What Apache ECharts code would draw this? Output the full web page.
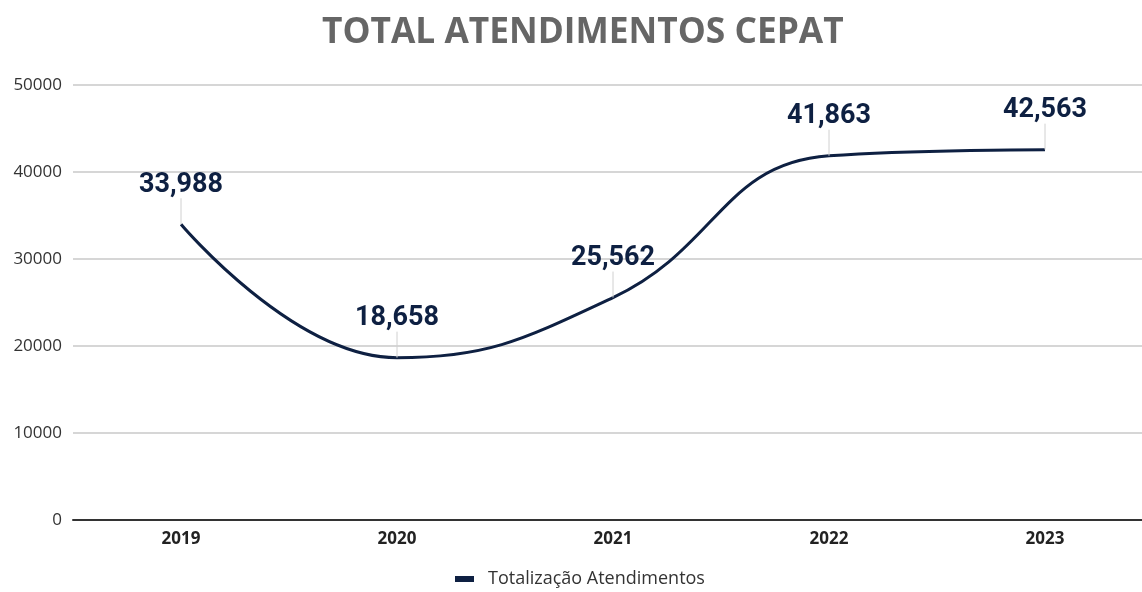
<!DOCTYPE html>
<html><head><meta charset="utf-8">
<script src="https://cdn.jsdelivr.net/npm/echarts@6/dist/echarts.min.js"></script>
<style>html,body{margin:0;padding:0;background:#fff;overflow:hidden}#c{width:1153px;height:592px}</style>
</head><body><div id="c"></div>
<script>
const categories = ['2019','2020','2021','2022','2023'];
const values = [33988, 18658, 25562, 41863, 42563];
const seriesName = 'Totalização Atendimentos';
const titleText = 'TOTAL ATENDIMENTOS CEPAT';

const chart = echarts.init(document.getElementById('c'));
chart.setOption({
  animation: false,
  title: {
    text: titleText, left: 317, top: 10,
    textStyle: {fontFamily: 'Open Sans', fontWeight: 'bold', fontSize: 35.3, color: '#666666'}
  },
  legend: {
    top: 570, left: 455, padding: 0,
    icon: 'rect', itemWidth: 19, itemHeight: 6, itemGap: 10,
    itemStyle: {color: '#0e2042', opacity: 1},
    textStyle: {fontFamily: 'Open Sans', fontSize: 18, color: '#333', padding: [0, 0, 0, 9]}
  },
  grid: {left: 73, right: 0, top: 85, bottom: 72, containLabel: false},
  xAxis: {
    type: 'category', data: categories, boundaryGap: true,
    axisLine: {lineStyle: {color: '#333', width: 2}},
    axisTick: {show: false},
    axisLabel: {fontFamily: 'Open Sans', fontWeight: 'bold', fontSize: 17, color: '#222', margin: 11}
  },
  yAxis: {
    type: 'value', min: 0, max: 50000, interval: 10000,
    axisLine: {show: false}, axisTick: {show: false},
    splitLine: {lineStyle: {color: '#c8c8c8', width: 1.5}},
    axisLabel: {fontFamily: 'Open Sans', fontSize: 17, color: '#333', margin: 11, formatter: v => String(v)}
  },
  series: [{
    name: seriesName, type: 'line', data: values, smooth: 0.45,
    showSymbol: true, symbol: 'circle', symbolSize: 0.1,
    lineStyle: {color: '#0e2042', width: 3},
    itemStyle: {color: '#0e2042'},
    label: {
      show: true, position: 'top', distance: 4,
      fontFamily: 'Roboto', fontWeight: 'bold', fontSize: 27, color: '#0e2042',
      formatter: p => p.value.toLocaleString('en-US')
    },
    labelLayout: {dy: -22},
    labelLine: {show: true, lineStyle: {color: '#d0d0d0', width: 1}}
  }]
});
</script></body></html>
